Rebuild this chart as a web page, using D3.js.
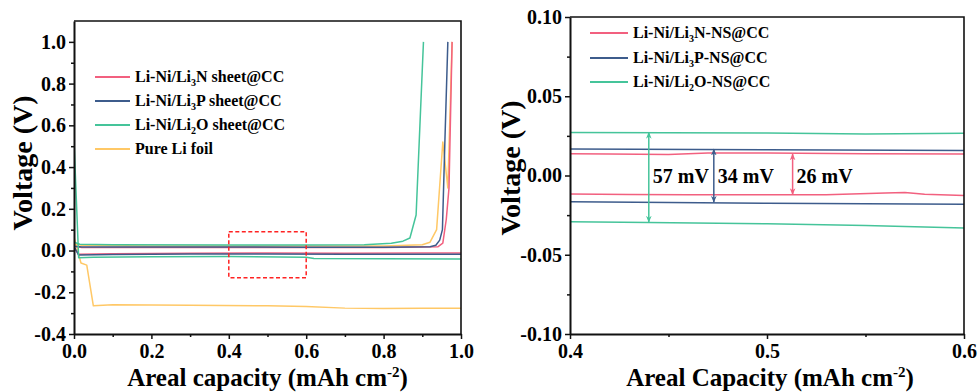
<!DOCTYPE html>
<html><head><meta charset="utf-8">
<script src="https://cdn.jsdelivr.net/npm/d3@7"></script>
<style>
body{margin:0;background:#fff}
svg{display:block}
text{font-family:"Liberation Serif","Times New Roman",serif;font-weight:bold;fill:#000}
</style>
</head><body>
<svg id="c" width="978" height="392"></svg>
<script>
// ---------------- data ----------------
const leftNames = ["Li-Ni/Li|3|N sheet@CC", "Li-Ni/Li|3|P sheet@CC", "Li-Ni/Li|2|O sheet@CC", "Pure Li foil"];
const rightNames = ["Li-Ni/Li|3|N-NS@CC", "Li-Ni/Li|3|P-NS@CC", "Li-Ni/Li|2|O-NS@CC"];
const seriesColors = ["#f2607f", "#3d5c8c", "#45c49a", "#ffc866"];

// Left panel: stripping (positive) and plating (negative) branches
const nPosX = [0, 0.02, 0.2, 0.4, 0.6, 0.8, 0.94, 0.953, 0.962, 0.969, 0.977];
const nPosY = [0.02, 0.015, 0.014, 0.014, 0.014, 0.014, 0.018, 0.035, 0.15, 0.30, 1.0];
const nNegX = [0, 0.012, 0.1, 0.3, 0.5, 0.7, 0.9, 1.0];
const nNegY = [0.015, -0.018, -0.015, -0.013, -0.012, -0.013, -0.012, -0.012];

const pPosX = [0, 0.02, 0.2, 0.4, 0.6, 0.8, 0.92, 0.935, 0.945, 0.952, 0.958, 0.966];
const pPosY = [0.02, 0.017, 0.017, 0.017, 0.016, 0.016, 0.018, 0.025, 0.05, 0.1, 0.5, 1.0];
const pNegX = [0, 0.012, 0.1, 0.3, 0.5, 0.7, 0.9, 1.0];
const pNegY = [0.02, -0.022, -0.019, -0.017, -0.017, -0.018, -0.018, -0.018];

const oPosX = [0, 0.015, 0.1, 0.4, 0.6, 0.75, 0.82, 0.85, 0.868, 0.884, 0.903];
const oPosY = [0.04, 0.03, 0.028, 0.027, 0.026, 0.028, 0.035, 0.045, 0.06, 0.17, 1.0];
const oNegX = [0, 0.012, 0.05, 0.2, 0.4, 0.6, 0.62, 0.8, 1.0];
const oNegY = [0.53, -0.035, -0.032, -0.03, -0.029, -0.032, -0.038, -0.039, -0.04];

const liPosX = [0, 0.02, 0.2, 0.5, 0.8, 0.9, 0.92, 0.937, 0.953, 0.966, 0.977];
const liPosY = [0.03, 0.025, 0.022, 0.022, 0.022, 0.028, 0.04, 0.1, 0.52, 0.3, 1.0];
const liNegX = [0, 0.018, 0.033, 0.05, 0.1, 0.3, 0.5, 0.6, 0.7, 0.8, 0.9, 1.0];
const liNegY = [0.065, -0.06, -0.07, -0.265, -0.26, -0.262, -0.265, -0.268, -0.276, -0.278, -0.277, -0.276];

// Right panel (zoom 0.4 - 0.6)
const rNTopX = [0.4, 0.42, 0.45, 0.47, 0.5, 0.55, 0.6];
const rNTopY = [0.0138, 0.0135, 0.0132, 0.0142, 0.0142, 0.0138, 0.0136];
const rNBotX = [0.4, 0.43, 0.46, 0.5, 0.53, 0.56, 0.57, 0.58, 0.6];
const rNBotY = [-0.0116, -0.0120, -0.0122, -0.0122, -0.0122, -0.0110, -0.0107, -0.0118, -0.0126];
const rPTopX = [0.4, 0.5, 0.6];
const rPTopY = [0.0167, 0.0163, 0.0158];
const rPBotX = [0.4, 0.45, 0.5, 0.55, 0.6];
const rPBotY = [-0.0166, -0.0170, -0.0175, -0.0178, -0.0181];
const rOTopX = [0.4, 0.5, 0.55, 0.6];
const rOTopY = [0.0272, 0.0268, 0.0262, 0.0266];
const rOBotX = [0.4, 0.44, 0.5, 0.55, 0.6];
const rOBotY = [-0.0292, -0.0296, -0.0305, -0.0315, -0.0332];

// annotation arrows: capacity, top, bottom, label
const arrowX = [0.44, 0.473, 0.513];
const arrowTop = [0.0272, 0.0166, 0.0136];
const arrowBot = [-0.0294, -0.0168, -0.0120];
const arrowLabels = ["57 mV", "34 mV", "26 mV"];

const leftXTicks = [0, 0.2, 0.4, 0.6, 0.8, 1.0];
const leftYTicks = [-0.4, -0.2, 0, 0.2, 0.4, 0.6, 0.8, 1.0];
const rightXTicks = [0.4, 0.5, 0.6];
const rightYTicks = [-0.1, -0.05, 0, 0.05, 0.1];
const zoomBox = [0.4, 0.6, 0.09, -0.13];

// ---------------- drawing ----------------
const svg = d3.select("#c");
const zip = (xs, ys) => xs.map((x, i) => [x, ys[i]]);

const xL = d3.scaleLinear([0, 1], [74, 461]);
const yL = d3.scaleLinear([-0.4, 1.1], [334, 21]);
const xR = d3.scaleLinear([0.4, 0.6], [570, 964]);
const yR = d3.scaleLinear([-0.1, 0.1], [334, 17]);

function clip(id, x, y) {
  svg.append("clipPath").attr("id", id).append("rect")
    .attr("x", x.range()[0]).attr("y", y.range()[1])
    .attr("width", x.range()[1] - x.range()[0]).attr("height", y.range()[0] - y.range()[1]);
}
clip("cl", xL, yL); clip("cr", xR, yR);

function drawLines(g, x, y, sets) {
  const line = d3.line().x(d => x(d[0])).y(d => y(d[1]));
  sets.forEach(s => g.append("path").attr("d", line(s.pts)).attr("fill", "none")
    .attr("stroke", s.c).attr("stroke-width", 1.5).attr("stroke-linejoin", "round"));
}

// left lines
const gL = svg.append("g").attr("clip-path", "url(#cl)");
drawLines(gL, xL, yL, [
  {pts: zip(liPosX, liPosY), c: seriesColors[3]},
  {pts: zip(liNegX, liNegY), c: seriesColors[3]},
  {pts: zip(nPosX, nPosY), c: seriesColors[0]},
  {pts: zip(nNegX, nNegY), c: seriesColors[0]},
  {pts: zip(pPosX, pPosY), c: seriesColors[1]},
  {pts: zip(pNegX, pNegY), c: seriesColors[1]},
  {pts: zip(oPosX, oPosY), c: seriesColors[2]},
  {pts: zip(oNegX, oNegY), c: seriesColors[2]},
]);

// zoom box
svg.append("rect").attr("x", xL(zoomBox[0])).attr("y", yL(zoomBox[2]))
  .attr("width", xL(zoomBox[1]) - xL(zoomBox[0])).attr("height", yL(zoomBox[3]) - yL(zoomBox[2]))
  .attr("fill", "none").attr("stroke", "#f22").attr("stroke-width", 1.5).attr("stroke-dasharray", "4,2.5");

// right lines
const gR = svg.append("g").attr("clip-path", "url(#cr)");
drawLines(gR, xR, yR, [
  {pts: zip(rOTopX, rOTopY), c: seriesColors[2]},
  {pts: zip(rOBotX, rOBotY), c: seriesColors[2]},
  {pts: zip(rPTopX, rPTopY), c: seriesColors[1]},
  {pts: zip(rPBotX, rPBotY), c: seriesColors[1]},
  {pts: zip(rNTopX, rNTopY), c: seriesColors[0]},
  {pts: zip(rNBotX, rNBotY), c: seriesColors[0]},
]);

// arrow markers
const defs = svg.append("defs");
const arrowColors = [seriesColors[2], seriesColors[1], seriesColors[0]];
arrowColors.forEach((c, i) => {
  defs.append("marker").attr("id", "ah" + i).attr("viewBox", "0 0 10 10")
    .attr("refX", 9).attr("refY", 5).attr("markerWidth", 7).attr("markerHeight", 7)
    .attr("markerUnits", "userSpaceOnUse").attr("orient", "auto-start-reverse")
    .append("path").attr("d", "M0,1 L10,5 L0,9 L3,5 Z").attr("fill", c);
});
arrowX.forEach((ax, i) => {
  svg.append("line").attr("x1", xR(ax)).attr("x2", xR(ax))
    .attr("y1", yR(arrowTop[i])).attr("y2", yR(arrowBot[i]))
    .attr("stroke", arrowColors[i]).attr("stroke-width", 1.5)
    .attr("marker-start", `url(#ah${i})`).attr("marker-end", `url(#ah${i})`);
  svg.append("text").attr("x", xR(ax) + 32).attr("y", yR(0) + 7)
    .attr("text-anchor", "middle").style("font-size", "20px").text(arrowLabels[i]);
});

// axes
function axes(x, y, xt, yt, xminor, yminor, fmtX, fmtY) {
  const [x0, x1] = x.range(), [y0, y1] = y.range();
  const gx = svg.append("g").attr("transform", `translate(0,${y0})`)
    .call(d3.axisBottom(x).tickValues(xt).tickFormat(fmtX).tickSize(5).tickSizeOuter(0).tickPadding(4));
  svg.append("g").attr("transform", `translate(0,${y0})`)
    .call(d3.axisBottom(x).tickValues(xminor).tickFormat("").tickSize(3).tickSizeOuter(0))
    .select(".domain").remove();
  const gy = svg.append("g").attr("transform", `translate(${x0},0)`)
    .call(d3.axisLeft(y).tickValues(yt).tickFormat(fmtY).tickSize(5).tickSizeOuter(0).tickPadding(3));
  svg.append("g").attr("transform", `translate(${x0},0)`)
    .call(d3.axisLeft(y).tickValues(yminor).tickFormat("").tickSize(3).tickSizeOuter(0))
    .select(".domain").remove();
  svg.selectAll(".tick line").attr("stroke", "#111").attr("stroke-width", 1.5);
  [gx, gy].forEach(g => {
    g.select(".domain").attr("stroke", "#111").attr("stroke-width", 2);
    g.selectAll("text").style("font-size", "20px").style("font-family", '"Liberation Serif",serif')
      .style("font-weight", "bold").attr("fill", "#000");
  });
  gx.selectAll("text").attr("dy", "15px");
  // top & right frame
  svg.append("path").attr("d", `M${x0},${y1}H${x1}V${y0}`).attr("fill", "none")
    .attr("stroke", "#111").attr("stroke-width", 1.6);
}
const f1 = d3.format(".1f"), f2 = d3.format(".2f");
const fmtNeg = f => d => f(d).replace("\u2212", "-");
axes(xL, yL, leftXTicks, leftYTicks, [0.1, 0.3, 0.5, 0.7, 0.9],
  [-0.3, -0.1, 0.1, 0.3, 0.5, 0.7, 0.9], fmtNeg(f1), fmtNeg(f1));
axes(xR, yR, rightXTicks, rightYTicks, [0.45, 0.55],
  [-0.075, -0.025, 0.025, 0.075], fmtNeg(f1), fmtNeg(f2));

// axis titles
function xTitle(cx, label) {
  const t = svg.append("text").attr("x", cx).attr("y", 386).attr("text-anchor", "middle")
    .style("font-size", "25px");
  t.append("tspan").text(label + " (mAh cm");
  t.append("tspan").attr("dy", -9).style("font-size", "15px").text("-2");
  t.append("tspan").attr("dy", 9).text(")");
}
xTitle((xL.range()[0] + xL.range()[1]) / 2, "Areal capacity");
xTitle((xR.range()[0] + xR.range()[1]) / 2 + 3, "Areal Capacity");
function yTitle(cx, cy) {
  svg.append("text").attr("transform", `translate(${cx},${cy}) rotate(-90)`)
    .attr("text-anchor", "middle").style("font-size", "28px").text("Voltage (V)");
}
yTitle(32, 163);
yTitle(520, 168);

// legends
function legend(x0, rows, names, lineLen) {
  names.forEach((n, i) => {
    const y = rows[i];
    svg.append("line").attr("x1", x0).attr("x2", x0 + lineLen).attr("y1", y).attr("y2", y)
      .attr("stroke", seriesColors[i]).attr("stroke-width", 2);
    const t = svg.append("text").attr("x", x0 + lineLen + 5).attr("y", y + 5).style("font-size", "16px");
    const parts = n.split("|");
    parts.forEach((p, k) => {
      if (k % 2 === 1) t.append("tspan").attr("dy", 4).style("font-size", "10px").text(p);
      else t.append("tspan").attr("dy", k > 0 ? -4 : 0).text(p);
    });
  });
}
legend(95, [77, 101, 125, 149], leftNames, 35);
legend(590, [33, 58, 82], rightNames, 38);
</script>
</body></html>
